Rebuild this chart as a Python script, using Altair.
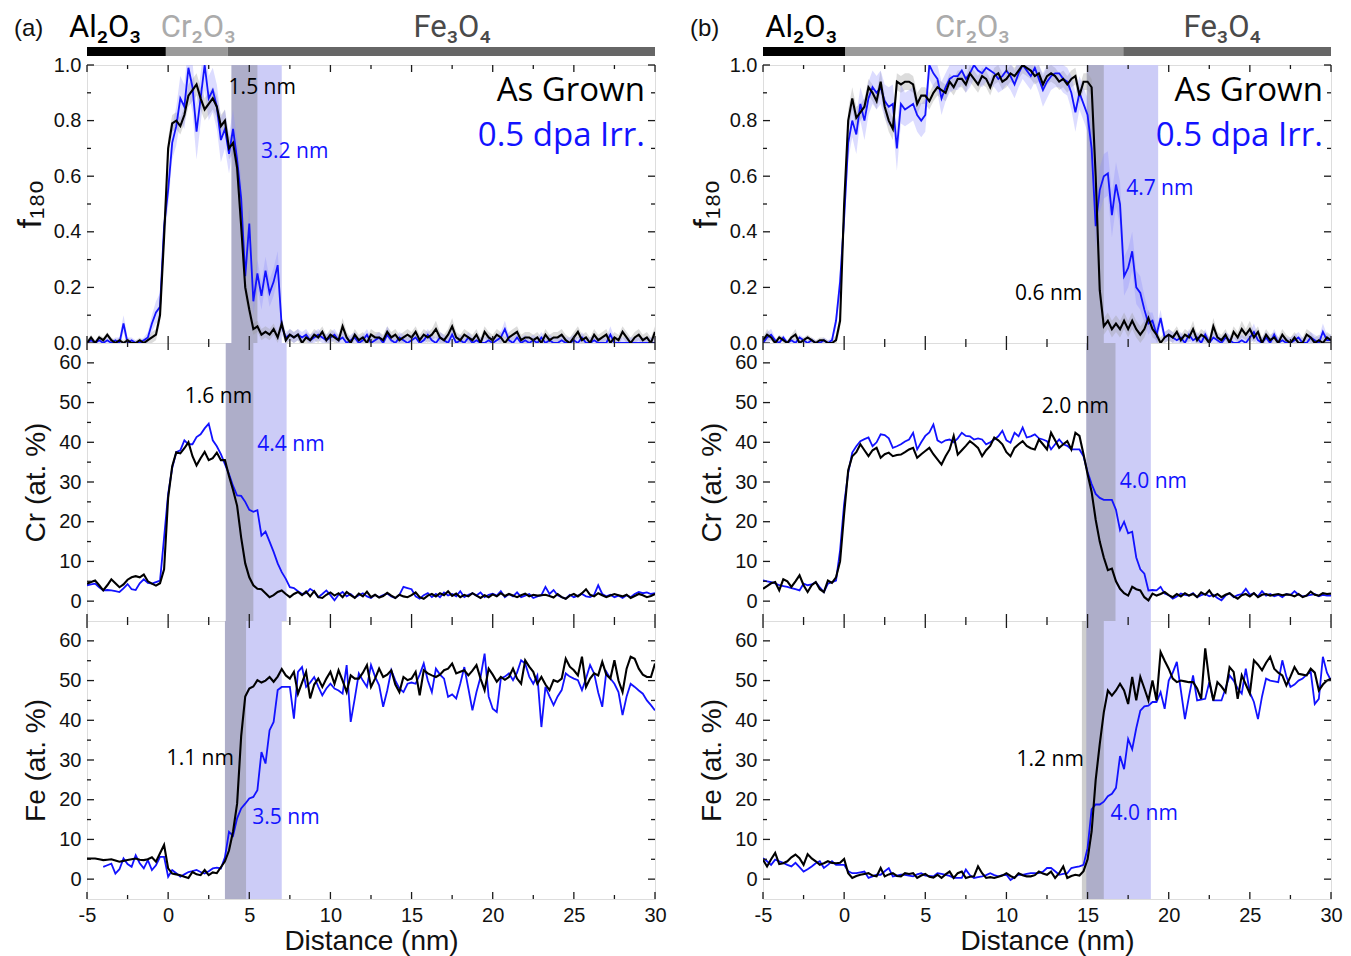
import altair as alt
import pandas as pd

# x grid of every series: -5 nm, step 0.25 nm
X_START = -5.0
X_STEP = 0.25

# ---------------- panel (a) ----------------
a_f_black = [
    0.00, 0.02, 0.00, 0.02, 0.01, 0.03, 0.01, 0.00, 0.01, 0.00, 0.01, 0.00, 0.00, 0.01, 0.00, 0.01, 0.02, 0.03, 0.10, 0.38,
    0.70, 0.79, 0.80, 0.78, 0.82, 0.89, 0.91, 0.93, 0.88, 0.84, 0.86, 0.88, 0.85, 0.78, 0.80, 0.70, 0.72, 0.63, 0.42, 0.20,
    0.12, 0.05, 0.06, 0.03, 0.04, 0.03, 0.05, 0.02, 0.07, 0.01, 0.03, 0.02, 0.03, 0.00, 0.02, 0.01, 0.03, 0.02, 0.04, 0.01,
    0.03, 0.02, 0.01, 0.06, 0.02, 0.00, 0.03, 0.01, 0.02, 0.00, 0.03, 0.02, 0.02, 0.01, 0.04, 0.02, 0.03, 0.01, 0.02, 0.03,
    0.02, 0.04, 0.01, 0.03, 0.02, 0.03, 0.05, 0.02, 0.01, 0.03, 0.06, 0.02, 0.01, 0.03, 0.02, 0.01, 0.03, 0.00, 0.04, 0.02,
    0.01, 0.03, 0.02, 0.00, 0.02, 0.03, 0.04, 0.01, 0.02, 0.02, 0.01, 0.02, 0.00, 0.03, 0.01, 0.02, 0.02, 0.03, 0.01, 0.00,
    0.02, 0.04, 0.01, 0.02, 0.00, 0.03, 0.01, 0.02, 0.03, 0.00, 0.02, 0.01, 0.04, 0.02, 0.00, 0.02, 0.03, 0.01, 0.02, 0.00,
    0.04,
]
a_f_black_err = [
    0.01, 0.01, 0.01, 0.01, 0.01, 0.01, 0.01, 0.01, 0.01, 0.01, 0.01, 0.01, 0.01, 0.01, 0.01, 0.01, 0.02, 0.02, 0.03, 0.04,
    0.04, 0.03, 0.03, 0.03, 0.03, 0.04, 0.04, 0.04, 0.04, 0.04, 0.04, 0.04, 0.04, 0.04, 0.04, 0.04, 0.04, 0.05, 0.05, 0.04,
    0.03, 0.02, 0.02, 0.02, 0.02, 0.02, 0.02, 0.02, 0.02, 0.02, 0.02, 0.02, 0.02, 0.02, 0.02, 0.02, 0.02, 0.02, 0.02, 0.02,
    0.02, 0.02, 0.02, 0.03, 0.02, 0.02, 0.02, 0.02, 0.02, 0.02, 0.02, 0.02, 0.02, 0.02, 0.02, 0.02, 0.02, 0.02, 0.02, 0.02,
    0.02, 0.02, 0.02, 0.02, 0.02, 0.02, 0.03, 0.02, 0.02, 0.02, 0.03, 0.02, 0.02, 0.02, 0.02, 0.02, 0.02, 0.02, 0.02, 0.02,
    0.02, 0.02, 0.02, 0.02, 0.02, 0.02, 0.02, 0.02, 0.02, 0.02, 0.02, 0.02, 0.02, 0.02, 0.02, 0.02, 0.02, 0.02, 0.02, 0.02,
    0.02, 0.02, 0.02, 0.02, 0.02, 0.02, 0.02, 0.02, 0.02, 0.02, 0.02, 0.02, 0.02, 0.02, 0.02, 0.02, 0.02, 0.02, 0.02, 0.02,
    0.02,
]
a_f_blue = [
    0.00, 0.01, 0.00, 0.01, 0.00, 0.01, 0.00, 0.01, 0.00, 0.07, 0.00, 0.01, 0.00, 0.00, 0.01, 0.02, 0.07, 0.11, 0.13, 0.42,
    0.55, 0.72, 0.78, 0.88, 0.85, 0.99, 0.92, 0.76, 0.88, 1.00, 0.88, 0.91, 0.85, 0.73, 0.77, 0.68, 0.77, 0.66, 0.52, 0.24,
    0.43, 0.15, 0.25, 0.17, 0.26, 0.18, 0.22, 0.28, 0.06, 0.02, 0.03, 0.02, 0.03, 0.02, 0.03, 0.01, 0.02, 0.03, 0.02, 0.01,
    0.02, 0.03, 0.01, 0.02, 0.00, 0.01, 0.02, 0.00, 0.01, 0.03, 0.00, 0.01, 0.02, 0.00, 0.03, 0.01, 0.00, 0.02, 0.01, 0.00,
    0.01, 0.02, 0.00, 0.01, 0.03, 0.01, 0.00, 0.02, 0.01, 0.00, 0.03, 0.00, 0.01, 0.00, 0.02, 0.00, 0.01, 0.00, 0.00, 0.01,
    0.00, 0.01, 0.02, 0.05, 0.01, 0.00, 0.02, 0.00, 0.01, 0.00, 0.01, 0.00, 0.02, 0.00, 0.01, 0.00, 0.00, 0.01, 0.00, 0.00,
    0.01, 0.00, 0.02, 0.00, 0.00, 0.01, 0.00, 0.00, 0.00, 0.03, 0.00, 0.00, 0.00, 0.00, 0.00, 0.00, 0.00, 0.00, 0.00, 0.00,
    0.00,
]
a_f_blue_err = [
    0.01, 0.01, 0.01, 0.01, 0.01, 0.01, 0.01, 0.01, 0.02, 0.03, 0.02, 0.01, 0.01, 0.01, 0.01, 0.02, 0.03, 0.04, 0.05, 0.06,
    0.06, 0.06, 0.07, 0.08, 0.08, 0.09, 0.09, 0.10, 0.09, 0.09, 0.08, 0.08, 0.08, 0.08, 0.07, 0.07, 0.07, 0.07, 0.07, 0.06,
    0.06, 0.05, 0.05, 0.05, 0.05, 0.05, 0.05, 0.05, 0.03, 0.02, 0.02, 0.02, 0.02, 0.02, 0.02, 0.02, 0.02, 0.02, 0.02, 0.02,
    0.02, 0.02, 0.02, 0.02, 0.02, 0.02, 0.02, 0.02, 0.02, 0.02, 0.02, 0.02, 0.02, 0.02, 0.03, 0.02, 0.02, 0.02, 0.02, 0.02,
    0.02, 0.02, 0.02, 0.02, 0.02, 0.02, 0.02, 0.02, 0.02, 0.02, 0.03, 0.02, 0.02, 0.02, 0.02, 0.02, 0.02, 0.02, 0.02, 0.02,
    0.02, 0.02, 0.02, 0.03, 0.02, 0.02, 0.02, 0.02, 0.02, 0.02, 0.02, 0.02, 0.02, 0.02, 0.02, 0.02, 0.02, 0.02, 0.02, 0.02,
    0.02, 0.02, 0.02, 0.02, 0.02, 0.02, 0.02, 0.02, 0.02, 0.03, 0.02, 0.02, 0.02, 0.02, 0.02, 0.02, 0.02, 0.02, 0.02, 0.02,
    0.02,
]
a_cr_black = [
    4.4, 4.8, 5.2, 4.0, 2.7, 4.0, 5.5, 4.5, 3.5, 4.2, 5.4, 6.0, 6.3, 6.0, 6.7, 5.0, 4.4, 3.9, 4.5, 8.0,
    26.0, 34.0, 37.5, 37.2, 38.5, 40.0, 36.5, 34.2, 36.0, 37.6, 35.5, 36.0, 37.4, 35.5, 35.5, 31.5, 28.0, 24.0, 16.0, 9.5,
    6.0, 4.0, 3.1, 3.0, 2.0, 1.0, 1.5, 2.3, 2.7, 1.8, 1.0, 1.8, 2.3, 1.5, 2.4, 1.2, 2.5, 1.0, 0.8, 1.6,
    2.2, 1.4, 2.0, 1.0, 2.3, 1.5, 0.8, 1.9, 1.2, 2.4, 1.0, 1.6, 0.9, 1.3, 2.1, 1.4, 0.8, 1.6, 1.2, 1.0,
    1.5, 2.2, 1.0, 0.6, 1.4, 1.8, 1.2, 2.0, 1.5, 2.5, 1.3, 1.9, 1.0, 1.6, 1.2, 2.0, 1.4, 0.8, 1.5, 1.0,
    1.7, 1.2, 2.0, 1.3, 1.8, 1.4, 1.0, 1.5, 1.9, 1.2, 1.6, 1.4, 1.5, 1.6, 1.3, 0.9, 1.8, 1.0, 0.6, 1.4,
    1.8, 1.2, 2.0, 3.0, 1.6, 1.2, 2.0, 1.5, 1.0, 1.4, 1.8, 1.5, 1.2, 1.6, 0.8, 1.3, 1.8, 1.5, 1.0, 1.3,
    1.8,
]
a_cr_blue = [
    4.0, 4.2, 4.4, 3.5, 2.7, 2.8, 2.7, 2.5, 2.3, 3.2, 4.3, 3.0, 2.8, 4.5, 5.5, 4.6, 4.4, 4.8, 5.2, 16.0,
    27.0, 33.5, 37.5, 38.0, 40.5, 39.5, 39.5, 41.3, 42.0, 43.5, 44.7, 40.5, 39.0, 37.0, 34.5, 32.0, 29.0, 26.6, 26.5, 25.0,
    23.0, 22.5, 22.9, 16.5, 17.5, 15.0, 12.4, 9.5, 7.3, 5.6, 3.5, 3.3, 2.5, 1.8, 2.0, 3.1, 2.4, 1.0, 1.8, 2.7,
    1.5, 0.2, 1.6, 2.3, 1.2, 1.8, 0.9, 1.5, 2.0, 1.2, 0.8, 1.6, 1.0, 1.5, 1.9, 1.2, 0.8, 1.6, 3.6, 3.3,
    3.0, 1.2, 0.6, 1.5, 2.0, 1.0, 1.8, 1.0, 2.2, 1.4, 1.8, 1.2, 2.5, 1.0, 1.6, 2.0, 1.4, 2.2, 1.0, 1.6,
    1.9, 1.4, 2.5, 1.0, 1.8, 1.2, 2.2, 1.0, 1.4, 1.8, 0.8, 1.2, 1.5, 3.6, 1.8, 2.8, 1.5, 1.0, 0.6, 1.6,
    1.0, 1.4, 1.8, 1.2, 1.0, 1.6, 4.0, 1.8, 1.2, 1.6, 1.0, 1.4, 0.8, 1.5, 1.0, 1.8, 2.3, 2.0, 2.2, 1.8,
    2.0,
]
a_fe_black = [
    5.2, 5.2, 5.2, 5.0, 4.8, 4.9, 5.0, 4.7, 4.4, 4.6, 4.8, 5.0, 5.2, 4.9, 4.8, 5.0, 5.5, 4.4, 6.5, 8.6,
    2.7, 1.4, 1.2, 1.0, 0.6, 0.3, 1.8, 1.2, 1.0, 2.3, 1.0, 1.7, 1.5, 3.0, 4.5, 7.2, 12.0, 19.0, 36.0, 46.0,
    48.0, 48.5, 50.1, 49.5, 50.0, 50.9, 49.7, 51.0, 52.9, 51.3, 50.5, 52.2, 46.7, 49.5, 52.2, 45.5, 49.0, 50.5, 48.4, 50.5,
    52.2, 49.2, 52.6, 50.0, 47.1, 51.3, 50.5, 50.5, 52.0, 53.9, 48.4, 50.5, 53.0, 50.9, 51.5, 52.6, 49.0, 47.1, 50.9, 50.1,
    50.5, 52.2, 46.3, 52.6, 51.8, 51.3, 50.9, 51.5, 52.6, 53.0, 54.3, 51.8, 52.2, 52.6, 51.3, 52.5, 53.9, 50.5, 47.6, 53.0,
    51.5, 49.7, 50.9, 50.2, 50.9, 53.0, 50.5, 49.2, 55.1, 53.5, 52.2, 49.2, 50.9, 49.0, 47.6, 50.1, 49.7, 50.5, 55.5, 53.5,
    52.6, 51.3, 56.0, 48.4, 50.5, 51.8, 51.3, 54.7, 51.5, 50.5, 55.1, 50.0, 47.1, 53.0, 56.0, 55.5, 53.0, 51.5, 50.9, 50.9,
    54.3,
]
a_fe_blue = [
    None, None, None, None, 3.1, 3.5, 3.9, 1.4, 2.5, 5.2, 3.8, 3.1, 6.0, 4.0, 2.7, 4.8, 2.3, 3.5, 5.6, 5.6,
    0.6, 2.3, 1.5, 0.6, 1.2, 1.8, 2.0, 2.3, 1.8, 1.4, 2.0, 2.7, 2.9, 2.7, 5.5, 11.9, 10.9, 15.3, 17.8, 19.0,
    20.3, 20.7, 22.4, 32.0, 29.1, 37.5, 39.6, 47.6, 48.4, 48.4, 48.4, 40.4, 52.2, 53.4, 48.4, 49.5, 50.9, 48.5, 46.3, 48.0,
    49.2, 48.0, 47.5, 46.7, 53.9, 39.6, 45.5, 51.8, 50.0, 48.4, 53.9, 51.0, 48.8, 43.4, 47.5, 52.6, 50.0, 48.0, 47.1, 49.2,
    49.5, 49.2, 51.5, 54.3, 50.0, 47.1, 53.0, 51.5, 50.5, 45.9, 46.5, 45.5, 49.2, 53.4, 48.0, 42.5, 47.1, 50.9, 56.8, 46.0,
    42.9, 42.1, 50.5, 51.0, 51.8, 50.1, 52.0, 55.1, 54.3, 51.0, 49.2, 51.3, 38.3, 48.4, 46.0, 43.8, 46.0, 47.6, 51.8, 51.0,
    50.5, 50.1, 47.6, 50.5, 53.9, 51.8, 47.0, 43.4, 52.2, 50.5, 49.2, 47.1, 41.3, 46.0, 49.2, 48.4, 47.5, 46.7, 45.0, 43.8,
    42.5,
]

# ---------------- panel (b) ----------------
b_f_black = [
    0.01, 0.03, 0.02, 0.00, 0.02, 0.01, 0.00, 0.02, 0.03, 0.00, 0.01, 0.02, 0.01, 0.00, 0.01, 0.01, 0.00, 0.00, 0.01, 0.08,
    0.50, 0.80, 0.88, 0.81, 0.83, 0.85, 0.92, 0.90, 0.87, 0.94, 0.85, 0.80, 0.77, 0.94, 0.93, 0.94, 0.94, 0.93, 0.86, 0.89,
    0.89, 0.87, 0.90, 0.92, 0.91, 0.90, 0.94, 0.92, 0.95, 0.95, 0.93, 0.97, 0.95, 0.93, 0.96, 0.95, 0.92, 0.96, 0.97, 0.94,
    0.95, 0.97, 0.96, 0.98, 1.00, 0.99, 0.98, 0.96, 0.97, 0.93, 0.96, 0.97, 0.96, 0.94, 0.95, 0.93, 0.95, 0.96, 0.89, 0.94,
    0.94, 0.92, 0.60, 0.19, 0.06, 0.08, 0.05, 0.07, 0.05, 0.08, 0.05, 0.08, 0.05, 0.03, 0.05, 0.09, 0.05, 0.03, 0.00, 0.02,
    0.03, 0.02, 0.04, 0.01, 0.03, 0.02, 0.05, 0.01, 0.03, 0.02, 0.00, 0.06, 0.02, 0.01, 0.03, 0.00, 0.04, 0.02, 0.05, 0.03,
    0.05, 0.02, 0.04, 0.00, 0.03, 0.01, 0.02, 0.00, 0.03, 0.01, 0.00, 0.02, 0.00, 0.00, 0.03, 0.02, 0.00, 0.01, 0.00, 0.02,
    0.01,
]
b_f_black_err = [
    0.01, 0.02, 0.01, 0.01, 0.01, 0.01, 0.01, 0.01, 0.02, 0.01, 0.01, 0.01, 0.01, 0.01, 0.01, 0.01, 0.01, 0.01, 0.02, 0.03,
    0.04, 0.04, 0.04, 0.04, 0.03, 0.03, 0.03, 0.03, 0.03, 0.04, 0.04, 0.04, 0.04, 0.03, 0.03, 0.03, 0.03, 0.03, 0.04, 0.03,
    0.03, 0.03, 0.03, 0.03, 0.03, 0.03, 0.03, 0.03, 0.03, 0.03, 0.03, 0.03, 0.03, 0.03, 0.03, 0.03, 0.03, 0.03, 0.03, 0.03,
    0.03, 0.03, 0.03, 0.03, 0.03, 0.03, 0.03, 0.03, 0.03, 0.03, 0.03, 0.03, 0.03, 0.03, 0.03, 0.03, 0.03, 0.03, 0.03, 0.03,
    0.03, 0.03, 0.04, 0.04, 0.03, 0.03, 0.03, 0.03, 0.03, 0.03, 0.03, 0.03, 0.03, 0.03, 0.03, 0.03, 0.03, 0.02, 0.02, 0.02,
    0.02, 0.02, 0.02, 0.02, 0.02, 0.02, 0.03, 0.02, 0.02, 0.02, 0.02, 0.03, 0.02, 0.02, 0.02, 0.02, 0.02, 0.02, 0.03, 0.02,
    0.03, 0.02, 0.02, 0.02, 0.02, 0.02, 0.02, 0.02, 0.02, 0.02, 0.02, 0.02, 0.02, 0.02, 0.02, 0.02, 0.02, 0.02, 0.02, 0.02,
    0.02,
]
b_f_blue = [
    0.00, 0.02, 0.03, 0.01, 0.00, 0.02, 0.00, 0.01, 0.00, 0.02, 0.01, 0.00, 0.01, 0.00, 0.00, 0.01, 0.00, 0.01, 0.08, 0.22,
    0.45, 0.72, 0.80, 0.75, 0.86, 0.80, 0.88, 0.92, 0.90, 0.92, 0.87, 0.85, 0.86, 0.70, 0.86, 0.84, 0.85, 0.86, 0.82, 0.80,
    0.82, 1.00, 0.97, 0.95, 0.88, 0.92, 0.95, 0.96, 0.96, 0.98, 0.95, 0.97, 1.00, 0.98, 0.97, 0.99, 0.98, 0.97, 0.95, 0.96,
    0.98, 0.96, 0.93, 0.97, 1.00, 0.98, 0.96, 0.99, 0.95, 0.91, 0.94, 0.96, 0.97, 0.97, 0.95, 0.94, 0.90, 0.83, 0.90, 0.86,
    0.82, 0.70, 0.42, 0.55, 0.60, 0.61, 0.46, 0.57, 0.50, 0.24, 0.27, 0.33, 0.20, 0.18, 0.12, 0.07, 0.08, 0.03, 0.09, 0.02,
    0.03, 0.02, 0.01, 0.02, 0.00, 0.03, 0.01, 0.02, 0.00, 0.03, 0.00, 0.02, 0.01, 0.00, 0.02, 0.01, 0.00, 0.00, 0.01, 0.00,
    0.02, 0.04, 0.01, 0.00, 0.02, 0.00, 0.03, 0.00, 0.01, 0.00, 0.00, 0.01, 0.02, 0.00, 0.00, 0.02, 0.01, 0.00, 0.04, 0.01,
    0.01,
]
b_f_blue_err = [
    0.01, 0.02, 0.02, 0.01, 0.01, 0.01, 0.01, 0.01, 0.01, 0.01, 0.01, 0.01, 0.01, 0.01, 0.01, 0.01, 0.01, 0.01, 0.03, 0.05,
    0.06, 0.06, 0.06, 0.07, 0.06, 0.07, 0.06, 0.06, 0.06, 0.06, 0.06, 0.07, 0.07, 0.08, 0.07, 0.06, 0.06, 0.06, 0.06, 0.06,
    0.06, 0.05, 0.05, 0.05, 0.06, 0.05, 0.05, 0.05, 0.05, 0.05, 0.05, 0.05, 0.05, 0.05, 0.05, 0.05, 0.05, 0.05, 0.05, 0.05,
    0.05, 0.05, 0.05, 0.05, 0.05, 0.05, 0.05, 0.05, 0.05, 0.06, 0.06, 0.05, 0.05, 0.05, 0.05, 0.05, 0.06, 0.07, 0.06, 0.06,
    0.06, 0.07, 0.08, 0.08, 0.08, 0.08, 0.08, 0.08, 0.08, 0.07, 0.07, 0.07, 0.06, 0.06, 0.05, 0.04, 0.03, 0.03, 0.03, 0.02,
    0.02, 0.02, 0.02, 0.02, 0.02, 0.02, 0.02, 0.02, 0.02, 0.02, 0.02, 0.02, 0.02, 0.02, 0.02, 0.02, 0.02, 0.02, 0.02, 0.02,
    0.02, 0.03, 0.02, 0.02, 0.02, 0.02, 0.02, 0.02, 0.02, 0.02, 0.02, 0.02, 0.02, 0.02, 0.02, 0.02, 0.02, 0.02, 0.03, 0.02,
    0.02,
]
b_cr_black = [
    3.1, 3.8, 4.5, 4.8, 2.7, 5.5, 5.0, 3.6, 5.0, 6.5, 4.0, 2.3, 4.0, 4.8, 3.0, 2.3, 5.2, 4.6, 6.0, 10.0,
    22.0, 33.0, 36.5, 37.5, 39.5, 38.0, 36.5, 38.0, 38.6, 36.1, 37.0, 37.4, 36.5, 36.8, 36.9, 37.5, 38.2, 38.6, 36.1, 37.0,
    37.8, 38.6, 37.0, 35.7, 34.4, 36.5, 38.2, 41.6, 36.9, 38.0, 39.1, 40.3, 39.5, 38.6, 36.5, 38.0, 39.1, 41.2, 40.5, 39.5,
    37.5, 36.5, 38.6, 39.5, 40.3, 39.1, 38.5, 38.2, 40.7, 39.5, 38.2, 42.4, 40.5, 38.6, 39.5, 40.3, 38.2, 42.4, 41.6, 37.0,
    32.0, 27.5, 20.5, 15.0, 11.0, 7.8, 8.2, 5.0, 3.1, 2.0, 1.4, 3.6, 3.0, 2.7, 1.0, 0.2, 1.9, 1.4, 1.8, 2.3,
    1.5, 1.0, 1.8, 1.2, 2.0, 1.4, 1.8, 1.0, 2.2, 1.6, 2.7, 1.2, 1.8, 1.0, 1.6, 2.0, 1.2, 0.6, 1.5, 1.8,
    1.2, 2.0, 1.0, 1.6, 1.8, 1.4, 1.6, 1.8, 1.5, 1.7, 1.6, 1.2, 1.8, 1.0, 1.4, 2.4, 1.6, 1.4, 2.0, 1.8,
    1.9,
]
b_cr_blue = [
    5.2, 5.0, 4.8, 4.5, 4.0, 3.8, 3.6, 3.3, 3.0, 2.7, 4.4, 4.0, 4.2, 4.8, 3.5, 2.3, 4.4, 4.8, 5.2, 12.8,
    24.5, 32.3, 37.4, 39.0, 40.3, 40.8, 41.2, 39.0, 40.0, 42.0, 41.8, 41.0, 38.6, 39.0, 39.5, 40.2, 40.7, 42.4, 38.2, 40.0,
    41.6, 42.5, 44.5, 40.5, 39.9, 40.5, 40.7, 40.0, 41.0, 42.4, 41.6, 41.5, 40.7, 41.0, 40.7, 39.5, 40.0, 40.7, 41.5, 42.9,
    40.5, 39.9, 42.4, 41.5, 43.7, 41.2, 41.5, 42.0, 41.0, 40.7, 40.3, 38.2, 39.5, 40.7, 39.5, 39.1, 38.2, 38.2, 38.2, 36.5,
    32.5, 29.5, 27.0, 26.0, 25.5, 25.5, 25.5, 23.0, 17.9, 20.0, 17.1, 17.5, 11.0, 8.0, 6.9, 2.7, 2.8, 2.7, 3.6, 1.9,
    1.5, 0.6, 1.2, 1.9, 1.6, 1.4, 2.0, 1.0, 1.5, 1.8, 1.2, 1.6, 0.8, 0.2, 1.4, 2.0, 1.0, 1.5, 1.8, 3.1,
    1.6, 2.0, 1.2, 2.5, 1.4, 1.8, 1.2, 1.6, 1.0, 1.8, 1.5, 2.5, 1.6, 1.2, 1.4, 1.6, 1.8, 1.2, 1.6, 1.4,
    1.4,
]
b_fe_black = [
    4.9, 3.2, 5.0, 6.6, 3.8, 4.0, 4.5, 5.5, 6.2, 5.3, 3.6, 6.3, 5.2, 4.5, 3.6, 4.0, 4.5, 4.1, 4.0, 4.1,
    5.1, 1.5, 0.3, 0.8, 1.1, 1.3, 1.5, 0.9, 0.7, 2.8, 0.7, 1.2, 1.5, 0.8, 0.7, 1.5, 1.3, 1.5, 0.3, 0.9,
    1.3, 0.6, 0.4, 1.1, 0.3, 1.2, 1.9, 0.3, 1.5, 1.9, 0.3, 0.6, 0.7, 3.2, 1.5, 0.3, 0.5, 0.3, 0.6, 0.9,
    1.5, 0.8, 0.3, 1.5, 1.0, 0.7, 0.7, 1.0, 1.9, 1.4, 1.1, 1.9, 0.3, 1.5, 3.2, 0.3, 0.8, 1.1, 0.9, 2.0,
    5.0, 12.0, 25.0, 34.0, 42.0, 47.5, 46.2, 47.5, 49.2, 47.5, 44.1, 50.9, 45.0, 50.9, 48.0, 45.0, 50.0, 45.0, 57.2, 55.0,
    53.0, 50.5, 49.6, 50.0, 49.8, 49.6, 49.6, 48.0, 45.4, 58.1, 50.0, 45.0, 49.6, 48.5, 47.1, 53.4, 52.2, 45.4, 51.3, 49.0,
    46.7, 55.1, 54.0, 52.6, 54.5, 56.0, 53.0, 52.0, 51.3, 48.8, 51.0, 53.4, 51.7, 51.5, 51.3, 53.0, 52.0, 47.5, 49.0, 50.0,
    50.5,
]
b_fe_blue = [
    5.3, 4.5, 3.6, 4.9, 4.5, 4.1, 3.6, 3.2, 4.1, 3.0, 1.9, 2.5, 3.2, 4.0, 4.5, 2.8, 3.6, 4.5, 3.6, 3.6,
    3.6, 2.0, 1.5, 1.5, 1.7, 1.9, 0.3, 0.7, 1.1, 1.1, 2.0, 2.8, 0.7, 0.9, 1.1, 1.1, 0.9, 0.7, 1.2, 1.5,
    0.9, 0.8, 0.7, 1.5, 1.3, 1.1, 0.8, 0.3, 0.3, 0.3, 2.4, 1.0, 0.3, 0.5, 0.7, 1.0, 1.5, 1.0, 0.7, 1.0,
    1.1, -0.2, 0.5, 1.1, 1.1, 1.3, 1.5, 1.5, 1.5, 1.9, 2.8, 2.8, 2.0, 1.1, 1.3, 1.5, 2.8, 3.0, 3.2, 3.6,
    7.8, 17.6, 18.8, 18.8, 19.5, 20.9, 21.5, 23.0, 31.0, 27.7, 35.3, 32.7, 38.0, 42.4, 43.5, 43.7, 44.6, 44.6, 47.1, 42.9,
    50.0, 52.0, 54.7, 47.5, 40.3, 46.0, 51.3, 45.0, 45.2, 45.4, 49.6, 45.0, 45.0, 45.0, 48.0, 51.3, 50.0, 48.0, 46.7, 53.0,
    47.0, 44.6, 40.3, 46.0, 50.5, 50.0, 49.8, 49.6, 55.1, 51.0, 48.4, 49.0, 50.0, 50.5, 51.5, 52.2, 44.1, 45.4, 56.0, 52.0,
    50.0,
]

# ---------------- ticks ----------------
X_MAJOR = [-5, 0, 5, 10, 15, 20, 25, 30]
X_MINOR = [-2.5, 2.5, 7.5, 12.5, 17.5, 22.5, 27.5]
F_MAJOR = [0.0, 0.2, 0.4, 0.6, 0.8, 1.0]
F_MINOR = [0.1, 0.3, 0.5, 0.7, 0.9]
P_MAJOR = [0, 10, 20, 30, 40, 50, 60]
P_MINOR = [5, 15, 25, 35, 45, 55]

# ---------------- layer bars ----------------
LAYER_NAMES = ["Al₂O₃", "Cr₂O₃", "Fe₃O₄"]
a_layer_start = [-5.0, -0.14, 3.67]
a_layer_end = [-0.14, 3.67, 30.0]
a_layer_label_x = [-3.9, 1.85, 17.5]
b_layer_start = [-5.0, 0.08, 17.2]
b_layer_end = [0.08, 17.2, 30.0]
b_layer_label_x = [-2.65, 7.9, 23.3]

# ---------------- shaded interface widths ----------------
a_gray_bands = [(3.9, 5.5), (3.55, 5.25), (3.5, 4.8)]
a_blue_bands = [(3.9, 7.0), (3.55, 7.3), (3.5, 7.0)]
b_gray_bands = [(14.95, 16.0), (14.92, 16.72), (14.65, 16.0)]
b_blue_bands = [(14.95, 19.35), (14.92, 18.9), (14.92, 18.9)]

# ---------------- annotations (text, x nm, y value, series) ----------------
a_notes = [
    [("1.5 nm", 5.8, 0.895, "k"), ("3.2 nm", 7.8, 0.665, "b")],
    [("1.6 nm", 3.1, 49.8, "k"), ("4.4 nm", 7.57, 37.7, "b")],
    [("1.1 nm", 1.98, 28.7, "k"), ("3.5 nm", 7.26, 13.8, "b")],
]
b_notes = [
    [("0.6 nm", 12.6, 0.155, "k"), ("4.7 nm", 19.45, 0.534, "b")],
    [("2.0 nm", 14.25, 47.3, "k"), ("4.0 nm", 19.05, 28.5, "b")],
    [("1.2 nm", 12.7, 28.5, "k"), ("4.0 nm", 18.49, 15.0, "b")],
]
LEGEND_TEXT = ["As Grown", "0.5 dpa Irr."]
LEGEND_Y = [0.872, 0.709]
a_legend_x = 29.38
b_legend_x = 29.5

# ---------------- style ----------------
W, H = 568, 278
HEADER_H = 18
FRAME = "#1a1a1a"
BLACK = "#000000"
BLUE = "#1212ff"
BAND_BLUE = "#ccccf7"
BAND_GRAY = "#7f7f7f"
ERR_BLACK = "#9a9a9a"
ERR_BLUE = "#8c8cff"
BAR_COLORS = ["#000000", "#9a9a9a", "#666666"]
LABEL_COLORS = ["#000000", "#ababab", "#4a4a4a"]
NUM_FONT = "Liberation Sans"
TXT_FONT = "Open Sans"
HEAD_FONT = "Roboto"
SERIES_COLOR = {"k": BLACK, "b": BLUE}


def xscale():
    return alt.Scale(domain=[-5, 30], nice=False, zero=False)


def series(vals, err=None):
    d = pd.DataFrame({"x": [X_START + X_STEP * i for i in range(len(vals))], "y": vals})
    if err is not None:
        d["lo"] = d["y"] - pd.Series(err[:len(vals)])
        d["hi"] = d["y"] + pd.Series(err[:len(vals)])
    return d


def panel(black, blue, kind, gband, bband, notes, legend_x, show_x, black_err=None, blue_err=None):
    xs = xscale()
    if kind == "f":
        ys = alt.Scale(domain=[0, 1], nice=False, zero=False)
        ymaj, ymin, ytitle, tsize, tpad = F_MAJOR, F_MINOR, "f₁₈ₒ", 34, 6
        lab = "format(datum.value, '.1f')"
    else:
        ys = alt.Scale(domain=[-5, 65], nice=False, zero=False)
        ymaj, ymin, tsize, tpad = P_MAJOR, P_MINOR, 28, 8
        ytitle = "Cr (at. %)" if kind == "cr" else "Fe (at. %)"
        lab = "'' + datum.value"
    yaxis = alt.Axis(values=ymaj, labelExpr=lab, ticks=False, domain=False, grid=False,
                     labelFont=NUM_FONT, labelFontSize=20, labelColor="#111111", labelPadding=6,
                     title=ytitle, titleFont=NUM_FONT, titleFontSize=tsize, titleFontWeight="normal",
                     titleColor="#111111", titlePadding=tpad)
    if show_x:
        xaxis = alt.Axis(values=X_MAJOR, labelExpr="'' + datum.value", ticks=False, domain=False,
                         grid=False, labelFlush=False, labelFont=NUM_FONT, labelFontSize=20,
                         labelColor="#111111", labelPadding=6, title="Distance (nm)",
                         titleFont=NUM_FONT, titleFontSize=28, titleFontWeight="normal",
                         titleColor="#111111", titlePadding=2)
    else:
        xaxis = None

    def X(field):
        return alt.X(field, scale=xs, axis=xaxis)

    def Y(field):
        return alt.Y(field, scale=ys, axis=yaxis)

    blue_band = alt.Chart(pd.DataFrame({"x0": [bband[0]], "x1": [bband[1]]})).mark_rect(
        color=BAND_BLUE).encode(x=X("x0:Q"), x2="x1:Q", y=alt.value(0), y2=alt.value(H))
    gray_band = alt.Chart(pd.DataFrame({"x0": [gband[0]], "x1": [gband[1]]})).mark_rect(
        color=BAND_GRAY, opacity=0.38).encode(x=X("x0:Q"), x2="x1:Q", y=alt.value(0), y2=alt.value(H))
    layers = [blue_band, gray_band]

    if black_err is not None:
        layers.append(alt.Chart(series(black, black_err)).mark_area(
            color=ERR_BLACK, opacity=0.35, clip=True).encode(x=X("x:Q"), y=Y("lo:Q"), y2="hi:Q"))
    if blue_err is not None:
        layers.append(alt.Chart(series(blue, blue_err)).mark_area(
            color=ERR_BLUE, opacity=0.3, clip=True).encode(x=X("x:Q"), y=Y("lo:Q"), y2="hi:Q"))

    layers.append(alt.Chart(series(blue)).mark_line(color=BLUE, strokeWidth=1.8, clip=True).encode(
        x=X("x:Q"), y=Y("y:Q")))
    layers.append(alt.Chart(series(black)).mark_line(color=BLACK, strokeWidth=2.1, clip=True).encode(
        x=X("x:Q"), y=Y("y:Q")))

    def xt(vals, length):
        base = alt.Chart(pd.DataFrame({"v": vals})).mark_rule(color=FRAME, strokeWidth=1.3)
        return [base.encode(x=X("v:Q"), y=alt.value(H), y2=alt.value(H - length)),
                base.encode(x=X("v:Q"), y=alt.value(0), y2=alt.value(length))]

    def yt(vals, length):
        base = alt.Chart(pd.DataFrame({"v": vals})).mark_rule(color=FRAME, strokeWidth=1.3)
        return [base.encode(y=Y("v:Q"), x=alt.value(0), x2=alt.value(length)),
                base.encode(y=Y("v:Q"), x=alt.value(W), x2=alt.value(W - length))]

    layers += xt(X_MAJOR, 7) + xt(X_MINOR, 4) + yt(ymaj, 7) + yt(ymin, 4)

    nd = pd.DataFrame({"t": [n[0] for n in notes], "x": [n[1] for n in notes],
                       "y": [n[2] for n in notes], "c": [SERIES_COLOR[n[3]] for n in notes]})
    layers.append(alt.Chart(nd).mark_text(font=TXT_FONT, fontSize=21, align="center",
                                          baseline="alphabetic").encode(
        x=X("x:Q"), y=Y("y:Q"), text="t:N", color=alt.Color("c:N", scale=None)))
    if legend_x is not None:
        ld = pd.DataFrame({"t": LEGEND_TEXT, "x": [legend_x, legend_x], "y": LEGEND_Y,
                           "c": [BLACK, BLUE]})
        layers.append(alt.Chart(ld).mark_text(font=TXT_FONT, fontSize=33, align="right",
                                              baseline="alphabetic").encode(
            x=X("x:Q"), y=Y("y:Q"), text="t:N", color=alt.Color("c:N", scale=None)))
    return alt.layer(*layers).properties(width=W, height=H)


def header(starts, ends, label_x, tag):
    xs = xscale()
    bd = pd.DataFrame({"x0": starts, "x1": ends, "c": BAR_COLORS})
    bars = alt.Chart(bd).mark_rect().encode(
        x=alt.X("x0:Q", scale=xs, axis=None), x2="x1:Q", y=alt.value(0), y2=alt.value(9),
        color=alt.Color("c:N", scale=None))
    td = pd.DataFrame({"t": LAYER_NAMES, "x": label_x, "c": LABEL_COLORS})
    names = alt.Chart(td).mark_text(font=HEAD_FONT, fontSize=31, align="center",
                                    baseline="alphabetic").encode(
        x=alt.X("x:Q", scale=xs, axis=None), y=alt.value(-10), text="t:N",
        color=alt.Color("c:N", scale=None))
    tg = alt.Chart(pd.DataFrame({"t": [tag]})).mark_text(
        font=NUM_FONT, fontSize=24, align="left", baseline="alphabetic", color="#111111").encode(
        x=alt.value(-73), y=alt.value(-11), text="t:N")
    return alt.layer(bars, names, tg).properties(
        width=W, height=HEADER_H, view=alt.ViewBackground(stroke="transparent"))


charts = [
    header(a_layer_start, a_layer_end, a_layer_label_x, "(a)"),
    header(b_layer_start, b_layer_end, b_layer_label_x, "(b)"),
    panel(a_f_black, a_f_blue, "f", a_gray_bands[0], a_blue_bands[0], a_notes[0], a_legend_x, False,
          a_f_black_err, a_f_blue_err),
    panel(b_f_black, b_f_blue, "f", b_gray_bands[0], b_blue_bands[0], b_notes[0], b_legend_x, False,
          b_f_black_err, b_f_blue_err),
    panel(a_cr_black, a_cr_blue, "cr", a_gray_bands[1], a_blue_bands[1], a_notes[1], None, False),
    panel(b_cr_black, b_cr_blue, "cr", b_gray_bands[1], b_blue_bands[1], b_notes[1], None, False),
    panel(a_fe_black, a_fe_blue, "fe", a_gray_bands[2], a_blue_bands[2], a_notes[2], None, True),
    panel(b_fe_black, b_fe_blue, "fe", b_gray_bands[2], b_blue_bands[2], b_notes[2], None, True),
]

chart = alt.concat(*charts, columns=2, spacing={"row": 0, "column": 108}, bounds="flush").properties(
    padding={"left": 4, "top": 3, "right": 0, "bottom": 0}
).configure_view(stroke=FRAME, strokeWidth=1.5).configure(background="white")

chart.save("out.html", embed_options={"renderer": "svg", "actions": False})
